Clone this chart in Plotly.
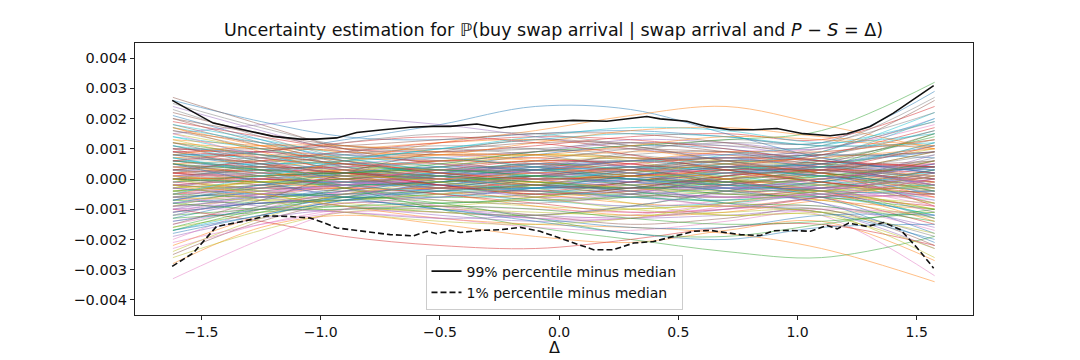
import plotly.graph_objects as go

# knot positions (Δ) at which the sampled curves were read
delta_knots = [-1.62, -1.25, -0.9, -0.5, -0.1, 0.3, 0.7, 1.1, 1.575]

# sampled curves minus median, in units of 1e-3
sample_curves = [
    [2.6, 1.9, 1.4, 1.3, 1.5, 1.6, 1.4, 1.2, 2.9],
    [-2.8, -1.6, -1.2, -1.5, -1.9, -2.1, -1.7, -1.4, -2.7],
    [1.2, 0.8, 0.5, 0.2, 0.1, 0.3, 0.4, 0.2, -0.3],
    [-0.5, -0.3, 0.1, 0.4, 0.6, 0.5, 0.2, -0.1, -0.6],
    [0.3, 0.2, 0.0, -0.2, -0.4, -0.6, -0.5, -0.2, 0.4],
    [1.8, 1.1, 0.4, -0.2, -0.5, -0.4, 0.0, 0.5, 1.5],
    [-1.4, -0.9, -0.4, 0.1, 0.5, 0.7, 0.5, 0.1, -0.8],
    [0.7, 0.6, 0.7, 0.9, 1.0, 0.8, 0.5, 0.3, 0.6],
    [-0.9, -0.7, -0.6, -0.7, -0.9, -1.0, -0.8, -0.5, -0.4],
    [0.0, 0.1, 0.2, 0.1, -0.1, 0.0, 0.3, 0.5, 0.9],
    [2.1, 1.3, 0.6, 0.2, 0.3, 0.6, 0.8, 0.6, 0.2],
    [-2.2, -1.2, -0.5, -0.3, -0.5, -0.8, -0.9, -0.6, -0.1],
    [0.5, 0.1, -0.3, -0.6, -0.5, -0.1, 0.3, 0.6, 1.4],
    [-0.2, 0.0, 0.3, 0.6, 0.7, 0.4, -0.2, -0.6, -1.5],
    [1.0, 0.9, 0.8, 0.5, 0.0, -0.4, -0.6, -0.4, 0.2],
    [-1.1, -0.8, -0.7, -0.4, 0.0, 0.4, 0.6, 0.4, -0.2],
    [0.2, -0.2, -0.5, -0.4, 0.0, 0.5, 0.9, 1.0, 1.8],
    [-0.3, 0.2, 0.5, 0.4, 0.0, -0.5, -0.9, -1.0, -1.9],
    [1.5, 1.0, 0.6, 0.5, 0.6, 0.7, 0.6, 0.5, 1.0],
    [-1.7, -1.1, -0.6, -0.5, -0.7, -0.9, -0.8, -0.6, -1.2],
    [0.8, 0.4, 0.0, -0.3, -0.2, 0.2, 0.6, 0.8, 0.7],
    [-0.6, -0.4, -0.1, 0.3, 0.4, 0.1, -0.3, -0.7, -1.0],
    [0.1, 0.3, 0.4, 0.2, -0.2, -0.3, 0.0, 0.1, -0.4],
    [-0.1, -0.3, -0.3, 0.0, 0.3, 0.2, -0.1, -0.3, 0.1],
    [2.4, 1.6, 0.9, 0.6, 0.9, 1.3, 1.2, 1.0, 2.0],
    [-2.5, -1.4, -0.8, -0.9, -1.2, -1.5, -1.3, -1.0, -2.2],
    [0.4, 0.5, 0.3, -0.1, -0.6, -0.9, -0.7, -0.2, 0.6],
    [-0.4, -0.6, -0.4, 0.0, 0.4, 0.8, 0.9, 0.5, -0.3],
    [1.3, 0.7, 0.2, 0.0, 0.2, 0.0, -0.4, -0.7, -1.3],
    [-1.2, -0.6, -0.1, 0.0, -0.2, 0.1, 0.5, 0.8, 1.6],
    [0.6, 0.3, 0.2, 0.4, 0.8, 1.1, 1.0, 0.6, 0.3],
    [-0.7, -0.5, -0.3, -0.5, -0.9, -1.2, -1.1, -0.7, -0.5],
    [0.0, -0.1, 0.0, 0.2, 0.3, 0.1, -0.2, -0.2, 0.3],
    [0.9, 0.5, 0.2, 0.1, -0.1, -0.2, 0.0, 0.3, 1.1],
    [-1.0, -0.5, -0.2, -0.1, 0.1, 0.2, 0.0, -0.3, -1.1],
    [1.6, 1.2, 0.9, 0.7, 0.4, 0.1, -0.1, 0.0, 0.5],
    [-1.5, -1.0, -0.8, -0.6, -0.3, 0.0, 0.2, 0.1, -0.5],
    [0.3, 0.0, -0.1, 0.1, 0.5, 0.6, 0.3, -0.1, -0.8],
    [-0.3, -0.1, 0.1, -0.1, -0.4, -0.5, -0.2, 0.2, 0.9],
    [1.1, 0.6, 0.3, 0.3, 0.5, 0.4, 0.1, -0.2, -0.2],
    [-0.8, -0.4, -0.2, -0.2, -0.4, -0.3, 0.1, 0.4, 0.4],
    [0.2, 0.4, 0.6, 0.8, 0.6, 0.2, -0.1, 0.0, 0.6],
    [-0.2, -0.4, -0.6, -0.8, -0.6, -0.3, 0.1, 0.2, -0.4],
    [1.9, 1.4, 1.0, 0.9, 1.1, 1.4, 1.5, 1.3, 2.4],
    [-1.9, -1.3, -1.0, -1.0, -1.2, -1.3, -1.2, -1.1, -2.3],
    [0.5, 0.2, 0.1, 0.3, 0.3, 0.0, -0.4, -0.3, 0.2],
    [-0.5, -0.2, -0.1, -0.3, -0.3, 0.0, 0.4, 0.3, -0.2],
    [0.0, 0.2, 0.1, -0.3, -0.7, -0.6, -0.2, 0.3, 1.2],
    [0.1, -0.1, 0.0, 0.4, 0.8, 0.7, 0.3, -0.2, -1.3],
    [1.4, 0.8, 0.3, -0.1, -0.3, -0.2, 0.2, 0.7, 2.0],
    [-1.3, -0.7, -0.3, 0.1, 0.3, 0.3, -0.1, -0.6, -1.8],
    [0.7, 0.8, 0.7, 0.6, 0.7, 0.9, 0.8, 0.4, 0.0],
    [-0.7, -0.8, -0.7, -0.5, -0.4, -0.6, -0.7, -0.4, 0.1],
    [0.2, 0.1, 0.2, 0.0, -0.3, -0.1, 0.2, 0.4, 0.5],
    [-0.1, 0.0, -0.1, 0.1, 0.2, 0.0, -0.2, -0.4, -0.5],
    [2.0, 1.2, 0.5, 0.0, -0.2, 0.1, 0.4, 0.4, 0.4],
    [-2.0, -1.0, -0.4, 0.0, 0.2, -0.1, -0.5, -0.5, -0.6],
    [0.4, 0.1, -0.2, -0.1, 0.3, 0.9, 1.3, 1.1, 1.1],
    [-0.4, -0.1, 0.2, 0.1, -0.3, -0.8, -1.2, -1.1, -1.1],
    [0.8, 0.7, 0.4, 0.0, -0.4, -0.5, -0.3, 0.0, 0.2],
    [-0.8, -0.6, -0.4, 0.0, 0.4, 0.6, 0.4, 0.1, -0.1],
    [1.2, 1.0, 1.0, 1.2, 1.3, 1.0, 0.6, 0.2, -0.1],
    [-1.2, -1.0, -0.9, -1.1, -1.2, -0.9, -0.4, 0.1, 0.4],
    [0.0, 0.0, -0.2, -0.5, -0.8, -1.1, -1.0, -0.6, 0.0],
    [0.1, 0.3, 0.5, 0.7, 0.9, 1.2, 1.1, 0.7, 0.2],
    [2.7, 1.8, 1.0, 0.5, 0.4, 0.6, 0.7, 0.9, 2.6],
    [-3.3, -2.0, -1.0, -0.5, -0.4, -0.6, -0.9, -1.2, -3.2],
    [1.0, 0.3, -0.3, -0.7, -0.8, -0.5, 0.1, 0.6, 0.9],
    [-0.9, -0.3, 0.2, 0.6, 0.8, 0.6, 0.0, -0.5, -0.8],
    [0.3, 0.5, 0.5, 0.3, 0.0, 0.3, 0.8, 1.1, 1.9],
    [-0.3, -0.5, -0.5, -0.2, 0.1, -0.2, -0.8, -1.1, -2.0],
    [1.7, 0.9, 0.2, -0.4, -0.6, -0.4, 0.0, 0.3, 0.1],
    [-1.6, -0.9, -0.3, 0.2, 0.5, 0.3, -0.1, -0.4, -0.2],
    [0.6, 0.4, 0.4, 0.6, 0.5, 0.3, 0.3, 0.2, -0.9],
    [-0.6, -0.2, -0.1, -0.4, -0.5, -0.4, -0.3, -0.1, 0.8],
    [2.2, 1.5, 1.0, 0.8, 0.9, 1.0, 0.9, 0.8, 1.6],
    [-2.3, -1.5, -1.0, -0.9, -1.0, -1.1, -1.0, -0.9, -1.7],
    [0.0, 0.4, 0.8, 1.0, 0.8, 0.4, 0.2, 0.3, 0.8],
    [0.0, -0.4, -0.8, -0.9, -0.6, -0.2, -0.2, -0.4, -1.0],
    [0.9, 0.4, -0.1, -0.2, 0.2, 0.6, 0.5, 0.0, -0.7],
    [0.8, 0.9, 1.3, 1.8, 2.4, 2.3, 1.5, 0.7, 0.2],
    [-0.5, 0.0, 0.6, 1.2, 1.6, 2.1, 2.4, 1.8, 1.0],
    [0.6, 0.3, -0.3, -1.0, -1.6, -2.0, -2.4, -2.6, -1.9],
    [-1.0, -1.4, -1.9, -2.2, -2.3, -2.0, -1.6, -1.5, -2.2],
    [1.5, 1.8, 2.0, 1.8, 1.4, 1.0, 0.8, 0.9, 1.3],
    [1.1, 0.5, 0.0, -0.1, 0.1, 0.4, 0.3, -0.1, -0.4],
    [-1.1, -0.5, 0.0, 0.2, 0.0, -0.3, -0.2, 0.2, 0.5],
    [0.4, 0.4, 0.2, 0.0, 0.1, 0.3, 0.5, 0.4, 0.0],
    [-0.4, -0.3, -0.1, 0.0, -0.1, -0.3, -0.5, -0.4, 0.1],
    [0.7, 0.3, 0.1, 0.2, 0.4, 0.2, -0.2, -0.3, 0.3],
    [-0.7, -0.3, -0.1, -0.2, -0.3, -0.1, 0.2, 0.3, -0.2],
    [1.3, 1.1, 0.9, 0.8, 0.8, 0.7, 0.5, 0.2, -0.6],
    [-1.3, -1.1, -0.9, -0.8, -0.7, -0.6, -0.4, -0.1, 0.6],
    [0.2, 0.0, 0.0, 0.3, 0.6, 0.5, 0.0, -0.5, -0.9],
    [-0.2, 0.0, 0.1, -0.2, -0.6, -0.5, 0.1, 0.5, 0.9],
    [0.0, -0.2, -0.4, -0.3, 0.1, 0.4, 0.4, 0.1, -0.2],
    [0.1, 0.2, 0.4, 0.5, 0.2, -0.2, -0.3, 0.0, 0.5],
    [2.3, 1.4, 0.7, 0.3, 0.2, 0.4, 0.6, 0.7, 1.3],
    [-2.4, -1.3, -0.6, -0.2, -0.1, -0.3, -0.4, -0.4, -1.0],
    [1.8, 1.3, 0.8, 0.4, 0.1, 0.2, 0.5, 0.9, 2.2],
    [-1.8, -1.2, -0.7, -0.3, 0.0, -0.1, -0.4, -0.8, -2.1],
    [0.5, 0.6, 0.5, 0.3, 0.3, 0.6, 0.9, 0.9, 1.3],
    [-0.5, -0.6, -0.5, -0.4, -0.2, -0.4, -0.8, -0.9, -1.4],
    [0.9, 0.7, 0.3, -0.2, -0.4, -0.1, 0.4, 0.8, 1.7],
    [-0.9, -0.6, -0.2, 0.2, 0.4, 0.2, -0.3, -0.8, -1.6],
    [0.3, 0.4, 0.3, 0.1, -0.2, -0.5, -0.6, -0.3, 0.3],
    [-0.3, -0.4, -0.2, 0.0, 0.3, 0.6, 0.7, 0.4, -0.2],
    [1.6, 1.0, 0.4, 0.1, 0.0, 0.0, -0.1, 0.0, 0.7],
    [-1.6, -1.1, -0.5, -0.1, 0.0, 0.1, 0.1, -0.1, -0.8],
    [0.6, 0.5, 0.6, 0.7, 0.4, 0.0, -0.3, -0.5, -1.2],
    [-0.6, -0.5, -0.6, -0.6, -0.3, 0.1, 0.4, 0.5, 1.1],
    [0.0, 0.1, 0.3, 0.2, 0.0, 0.1, 0.2, 0.0, -0.3],
    [0.0, -0.1, -0.2, -0.1, 0.1, 0.0, -0.1, 0.1, 0.4],
    [1.0, 0.8, 0.5, 0.3, 0.3, 0.5, 0.7, 0.6, 0.4],
    [-1.0, -0.8, -0.6, -0.3, -0.2, -0.4, -0.6, -0.6, -0.5],
    [0.8, 0.5, 0.2, 0.0, -0.2, -0.3, -0.2, 0.2, 0.9],
    [-0.8, -0.5, -0.2, 0.0, 0.2, 0.3, 0.2, -0.2, -0.9],
    [2.5, 1.7, 1.1, 0.9, 1.0, 1.2, 1.1, 1.1, 2.7],
    [-2.6, -1.7, -1.1, -1.0, -1.1, -1.2, -1.1, -1.1, -2.6],
    [1.4, 1.0, 0.6, 0.1, -0.3, -0.6, -0.7, -0.5, -0.4],
    [-1.4, -1.0, -0.6, -0.1, 0.3, 0.6, 0.7, 0.4, 0.3],
    [0.4, 0.2, 0.0, 0.0, 0.2, 0.3, 0.0, -0.4, -1.4],
    [-0.4, -0.2, 0.0, 0.1, -0.1, -0.3, -0.1, 0.4, 1.5],
    [0.2, 0.3, 0.2, -0.2, -0.5, -0.3, 0.1, 0.3, 0.2],
    [-0.2, -0.3, -0.2, 0.2, 0.5, 0.4, -0.1, -0.3, -0.3],
    [1.2, 0.6, 0.1, -0.3, -0.2, 0.3, 0.6, 0.5, 0.0],
    [-1.2, -0.6, -0.1, 0.3, 0.2, -0.3, -0.6, -0.5, 0.0],
    [0.6, 0.7, 0.8, 0.6, 0.2, -0.1, 0.0, 0.2, 0.4],
    [-0.6, -0.7, -0.7, -0.5, -0.2, 0.1, 0.0, -0.2, -0.5],
    [1.7, 1.2, 0.7, 0.3, 0.3, 0.4, 0.3, 0.4, 1.2],
    [-1.7, -1.2, -0.7, -0.4, -0.3, -0.3, -0.3, -0.4, -1.3],
    [0.1, -0.1, -0.3, -0.3, -0.1, 0.2, 0.5, 0.7, 1.0],
    [-0.1, 0.1, 0.2, 0.3, 0.1, -0.2, -0.5, -0.6, -1.0],
    [0.9, 0.9, 0.6, 0.2, 0.0, 0.1, 0.3, 0.3, -0.1],
    [-0.9, -0.8, -0.5, -0.2, 0.0, -0.1, -0.3, -0.3, 0.0],
    [2.0, 1.5, 1.1, 1.0, 1.2, 1.2, 0.9, 0.5, 0.6],
    [-2.1, -1.5, -1.1, -1.1, -1.3, -1.2, -0.8, -0.5, -0.7],
    [0.3, 0.1, -0.1, 0.1, 0.6, 1.0, 1.2, 1.2, 2.2],
    [-0.3, -0.1, 0.1, -0.1, -0.6, -1.0, -1.2, -1.2, -2.3],
    [0.7, 0.2, -0.2, -0.4, -0.3, 0.0, 0.2, 0.1, -0.5],
    [-0.7, -0.2, 0.2, 0.4, 0.3, 0.0, -0.2, -0.1, 0.5],
    [-0.2, -0.5, -0.9, -1.3, -1.5, -1.6, -1.8, -2.3, -3.4],
    [0.5, 0.3, 0.2, 0.5, 0.9, 1.1, 1.3, 1.6, 3.2],
    [0.3, 0.6, 0.9, 1.2, 1.4, 1.3, 1.0, 0.6, 0.4],
    [-0.3, -0.6, -0.9, -1.2, -1.4, -1.3, -1.0, -0.6, -0.4],
    [1.0, 1.0, 1.1, 1.3, 1.5, 1.5, 1.2, 0.8, 0.9],
    [-1.0, -1.0, -1.1, -1.3, -1.6, -1.7, -1.4, -1.0, -1.2],
    [0.0, 0.5, 0.9, 1.1, 1.0, 0.7, 0.7, 1.0, 1.9],
    [0.0, -0.5, -0.9, -1.1, -1.2, -1.0, -0.9, -1.1, -1.8],
    [-0.5, 0.1, 0.6, 1.0, 1.3, 1.5, 1.4, 1.1, 1.2],
    [0.5, -0.1, -0.6, -1.0, -1.3, -1.6, -1.6, -1.2, -1.2],
    [1.7, 1.1, 0.7, 0.8, 1.2, 1.6, 1.7, 1.4, 1.1],
    [-1.7, -1.0, -0.6, -0.8, -1.3, -1.8, -1.9, -1.5, -1.0],
    [0.6, 0.9, 1.2, 1.4, 1.2, 0.8, 0.3, -0.1, -0.5],
    [-0.6, -0.9, -1.1, -1.3, -1.2, -0.9, -0.4, 0.0, 0.4],
    [-1.5, -0.7, 0.2, 0.9, 1.3, 1.1, 0.6, 0.2, 0.0],
    [1.5, 0.7, -0.2, -0.9, -1.3, -1.3, -0.9, -0.4, 0.1],
    [0.2, 0.7, 1.2, 1.5, 1.5, 1.1, 0.6, 0.3, 0.1],
    [-0.2, -0.7, -1.1, -1.4, -1.5, -1.3, -0.8, -0.4, -0.3],
    [1.1, 0.8, 0.7, 1.0, 1.4, 1.7, 1.6, 1.2, 1.5],
    [-1.1, -0.8, -0.7, -1.0, -1.4, -1.8, -2.0, -1.6, -1.5],
    [0.8, 1.1, 1.1, 0.9, 0.8, 1.1, 1.4, 1.3, 1.0],
    [-0.8, -1.0, -1.0, -0.9, -1.0, -1.3, -1.5, -1.4, -1.1],
]
sample_scale = 1e-3

# 99% percentile minus median (units of 1e-3)
upper_delta = [-1.623, -1.451, -1.297, -1.200, -1.087, -1.017, -0.933, -0.849, -0.739,
               -0.625, -0.529, -0.457, -0.345, -0.248, -0.080, 0.059, 0.200, 0.284,
               0.368, 0.424, 0.536, 0.620, 0.718, 0.814, 0.914, 1.024, 1.137, 1.207,
               1.305, 1.402, 1.486, 1.571]
upper_99 = [2.60, 1.85, 1.58, 1.41, 1.32, 1.32, 1.36, 1.54, 1.63,
            1.71, 1.74, 1.74, 1.82, 1.69, 1.87, 1.94, 1.91, 1.99,
            2.07, 1.99, 1.91, 1.74, 1.63, 1.63, 1.67, 1.50, 1.43, 1.50,
            1.74, 2.18, 2.63, 3.09]

# 1% percentile minus median (units of 1e-3)
lower_delta = [-1.623, -1.535, -1.437, -1.325, -1.227, -1.129, -1.045, -0.989, -0.933,
               -0.821, -0.709, -0.611, -0.555, -0.513, -0.457, -0.415, -0.331, -0.247,
               -0.163, -0.080, 0.004, 0.088, 0.144, 0.228, 0.312, 0.396, 0.480, 0.564,
               0.634, 0.704, 0.760, 0.844, 0.900, 0.970, 1.054, 1.124, 1.166, 1.215,
               1.292, 1.362, 1.432, 1.502, 1.571]
lower_1 = [-2.89, -2.45, -1.57, -1.40, -1.22, -1.24, -1.29, -1.44, -1.62,
           -1.73, -1.84, -1.88, -1.73, -1.81, -1.70, -1.77, -1.70, -1.68,
           -1.60, -1.73, -1.95, -2.18, -2.34, -2.34, -2.12, -2.07, -1.90, -1.73,
           -1.70, -1.79, -1.84, -1.87, -1.71, -1.70, -1.73, -1.54, -1.65, -1.46,
           -1.57, -1.44, -1.68, -2.28, -2.95]

tab10 = ['#1f77b4', '#ff7f0e', '#2ca02c', '#d62728', '#9467bd',
         '#8c564b', '#e377c2', '#7f7f7f', '#bcbd22', '#17becf']

fig = go.Figure()
for i, curve in enumerate(sample_curves):
    fig.add_trace(go.Scatter(
        x=delta_knots, y=[v * sample_scale for v in curve], mode='lines',
        line=dict(color=tab10[i % 10], width=0.9, shape='spline', smoothing=1.0),
        opacity=0.55, showlegend=False, hoverinfo='skip'))

fig.add_trace(go.Scatter(
    x=upper_delta, y=[v * sample_scale for v in upper_99], mode='lines',
    line=dict(color='#111111', width=1.6), name='99% percentile minus median'))
fig.add_trace(go.Scatter(
    x=lower_delta, y=[v * sample_scale for v in lower_1], mode='lines',
    line=dict(color='#111111', width=1.6, dash='6px,3px'), name='1% percentile minus median'))

font = 'DejaVu Sans'
W, H = 1072, 352
plot_h = H - 35 - 45
fig.update_layout(
    width=W, height=H,
    margin=dict(l=127, r=107, t=35, b=45, autoexpand=False),
    paper_bgcolor='white', plot_bgcolor='white',
    font=dict(family=font, size=14, color='#111111'),
    title=dict(text='Uncertainty estimation for ℙ(buy swap arrival | swap arrival and <i>P</i> − <i>S</i> = Δ)',
               x=545.5 / W, xanchor='center', y=1 - 22 / H, yanchor='middle',
               font=dict(size=17.5, family=font, color='#111111')),
    legend=dict(x=0.5, xanchor='center', y=0.02, yanchor='bottom',
                bgcolor='rgba(255,255,255,0.85)', bordercolor='#cccccc', borderwidth=1,
                font=dict(size=14, family=font), tracegroupgap=0),
    showlegend=True,
    annotations=[dict(text='Δ', xref='paper', yref='paper', x=0.5, y=-32 / plot_h,
                      xanchor='center', yanchor='middle', showarrow=False,
                      font=dict(size=16, family=font, color='#111111'))],
)
fig.update_xaxes(range=[-1.779, 1.736], tickvals=[-1.5, -1.0, -0.5, 0.0, 0.5, 1.0, 1.5],
                 tickformat='.1f', showgrid=False, zeroline=False, automargin=False,
                 showline=True, linecolor='#222222', linewidth=1, mirror=True,
                 ticks='outside', ticklen=4, tickcolor='#222222',
                 tickfont=dict(size=14, family=font))
fig.update_yaxes(range=[-0.0045, 0.0045], dtick=0.001, tick0=0, tickformat='.3f',
                 showgrid=False, zeroline=False, automargin=False,
                 showline=True, linecolor='#222222', linewidth=1, mirror=True,
                 ticks='outside', ticklen=4, tickcolor='#222222',
                 tickfont=dict(size=14.5, family=font))

fig.write_html('out.html')
